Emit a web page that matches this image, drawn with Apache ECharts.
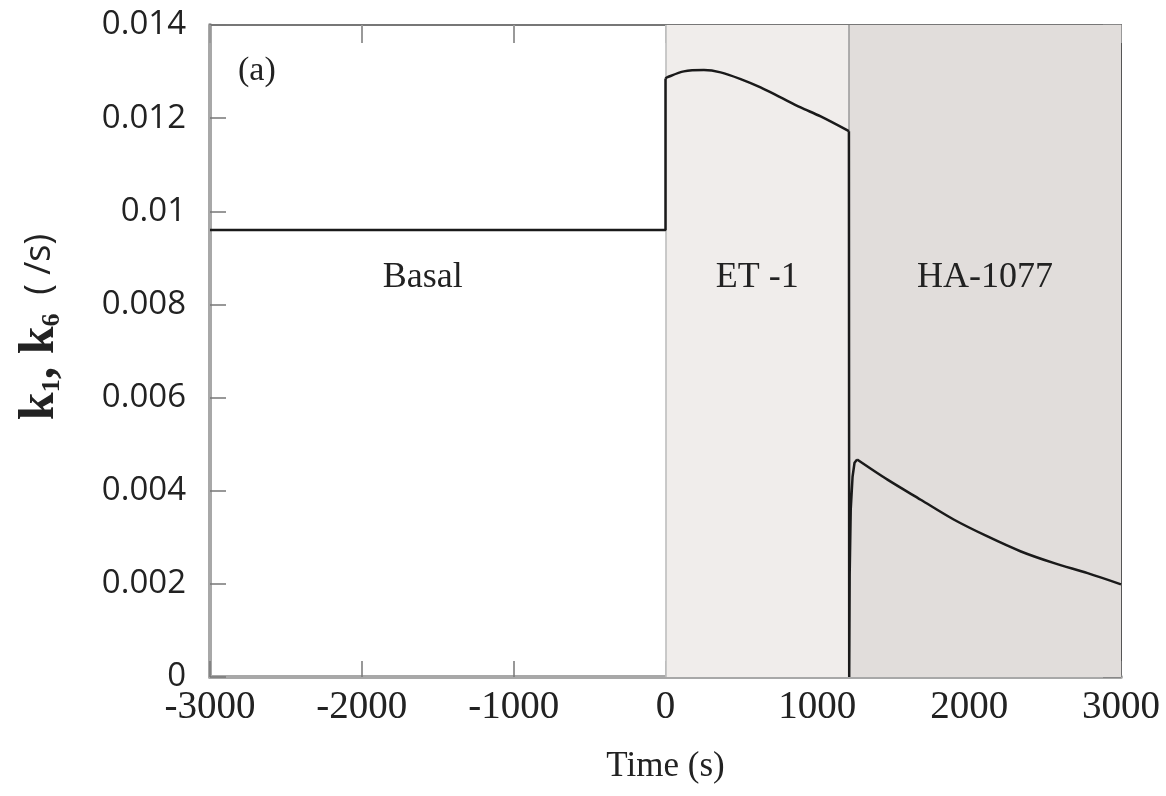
<!DOCTYPE html>
<html>
<head>
<meta charset="utf-8">
<script src="https://cdn.jsdelivr.net/npm/echarts@6/dist/echarts.min.js"></script>
<style>html,body{margin:0;padding:0;background:#fff;}#c{width:1166px;height:796px;}</style>
</head>
<body>
<div id="c"></div>
<script>
// Time (s) and rate constant k1, k6 (/s)
const basalT = [-3000, 0, 0];
const basalK = [0.0096, 0.0096, 0.01285];
const et1T = [0, 10, 121, 253, 363, 495, 626, 758, 890, 1022, 1208];
const et1K = [0.01285, 0.012875, 0.013004, 0.013032, 0.012983, 0.012839, 0.01266, 0.012445, 0.01223, 0.012036, 0.01172];
const dropT = [1208, 1210, 1213, 1220, 1232, 1245, 1262];
const dropK = [0.01172, 0.0, 0.0022, 0.0036, 0.0043, 0.0046, 0.00467];
const haT = [1262, 1462, 1681, 1901, 2121, 2341, 2560, 2780, 3000];
const haK = [0.00467, 0.004237, 0.003806, 0.003376, 0.003017, 0.002695, 0.002444, 0.00223, 0.00199];
const phaseNames = ['Basal', 'ET -1', 'HA-1077'];
const phaseStart = [-3000, 0, 1208];
const phaseEnd = [0, 1208, 3000];
const phaseColors = ['rgba(255,255,255,0)', '#f0edeb', '#e1dddb'];
const xTicks = [-3000, -2000, -1000, 0, 1000, 2000, 3000];
const yTicks = [0, 0.002, 0.004, 0.006, 0.008, 0.01, 0.012, 0.014];

const serif = '"Liberation Serif", "DejaVu Serif", serif';
const sans = '"Open Sans", "Noto Sans", sans-serif';
const zip = (t, k) => t.map((v, i) => [v, k[i]]);

const lineStyle = {color: '#1a1a1a', width: 2.5};
const chart = echarts.init(document.getElementById('c'));
chart.setOption({
  animation: false,
  backgroundColor: '#ffffff',
  grid: {left: 210, right: 45, top: 25, bottom: 119, containLabel: false},
  xAxis: [{
    type: 'value', min: xTicks[0], max: xTicks[xTicks.length - 1], interval: 1000, position: 'bottom',
    name: 'Time (s)', nameLocation: 'middle', nameGap: 72,
    nameTextStyle: {fontFamily: serif, fontSize: 35, color: '#222'},
    axisLine: {show: true, onZero: false, lineStyle: {color: '#a8a8a8', width: 4}},
    axisTick: {show: true, inside: true, length: 16, lineStyle: {color: '#777', width: 1.5}},
    axisLabel: {fontFamily: serif, fontSize: 39, color: '#222', margin: 11, formatter: v => String(v)},
    splitLine: {show: false}
  }, {
    type: 'value', min: xTicks[0], max: xTicks[xTicks.length - 1], interval: 1000, position: 'top',
    axisLine: {show: true, onZero: false, lineStyle: {color: '#777', width: 2}},
    axisTick: {show: true, inside: true, length: 18, lineStyle: {color: '#999', width: 2}},
    axisLabel: {show: false}, splitLine: {show: false}
  }],
  yAxis: [{
    type: 'value', min: yTicks[0], max: yTicks[yTicks.length - 1], interval: 0.002, position: 'left',
    axisLine: {show: true, onZero: false, lineStyle: {color: '#a8a8a8', width: 4}},
    axisTick: {show: true, inside: true, length: 16, lineStyle: {color: '#777', width: 1.5}},
    axisLabel: {fontFamily: sans, fontSize: 33, color: '#222', margin: 24,
      formatter: v => (v === 0 ? '0' : String(+v.toFixed(3)))},
    splitLine: {show: false}
  }, {
    type: 'value', min: yTicks[0], max: yTicks[yTicks.length - 1], interval: 0.002, position: 'right',
    axisLine: {show: true, onZero: false, lineStyle: {color: '#555', width: 2}},
    axisTick: {show: true, inside: true, length: 18, lineStyle: {color: '#888', width: 2}},
    axisLabel: {show: false}, splitLine: {show: false}
  }],
  series: [{
    type: 'line', data: zip(basalT, basalK), showSymbol: false, lineStyle: lineStyle, z: 5,
    markArea: {
      silent: true,
      data: phaseNames.map((n, i) => [{
        xAxis: phaseStart[i], itemStyle: {color: phaseColors[i]},
        label: {show: true, position: ['50%', 253], align: 'center', verticalAlign: 'middle',
          offset: [i === 0 ? -15 : 0, 0],
          formatter: n, fontFamily: serif, fontSize: 36, color: '#222'}
      }, {xAxis: phaseEnd[i]}])
    },
    markLine: {
      silent: true, symbol: 'none', label: {show: false},
      data: [
        {xAxis: phaseStart[1], lineStyle: {color: '#bbb', width: 1.5, type: 'solid'}},
        {xAxis: phaseStart[2], lineStyle: {color: '#999', width: 1.5, type: 'solid'}}
      ]
    }
  }, {
    type: 'line', data: zip(et1T, et1K), showSymbol: false, smooth: 0.3,
    lineStyle: lineStyle, z: 5
  }, {
    type: 'line', data: zip(dropT, dropK), showSymbol: false, lineStyle: lineStyle, z: 5
  }, {
    type: 'line', data: zip(haT, haK), showSymbol: false, smooth: 0.3,
    lineStyle: lineStyle, z: 5
  }],
  graphic: [{
    type: 'text', left: 238, top: 54,
    style: {text: '(a)', fontFamily: serif, fontSize: 34, fill: '#222'}
  }, {
    type: 'text', x: 40, y: 327, rotation: Math.PI / 2,
    style: {
      text: '{b|k}{s|1}{b|, k}{s|6}{r|  ( /s)}',
      align: 'center', verticalAlign: 'middle',
      rich: {
        b: {fontFamily: serif, fontWeight: 'bold', fontSize: 50, fill: '#222', color: '#222'},
        s: {fontFamily: serif, fontWeight: 'bold', fontSize: 26, fill: '#222', color: '#222', verticalAlign: 'bottom'},
        r: {fontFamily: sans, fontSize: 36, fill: '#222', color: '#222'}
      }
    }
  }]
});
</script>
</body>
</html>
